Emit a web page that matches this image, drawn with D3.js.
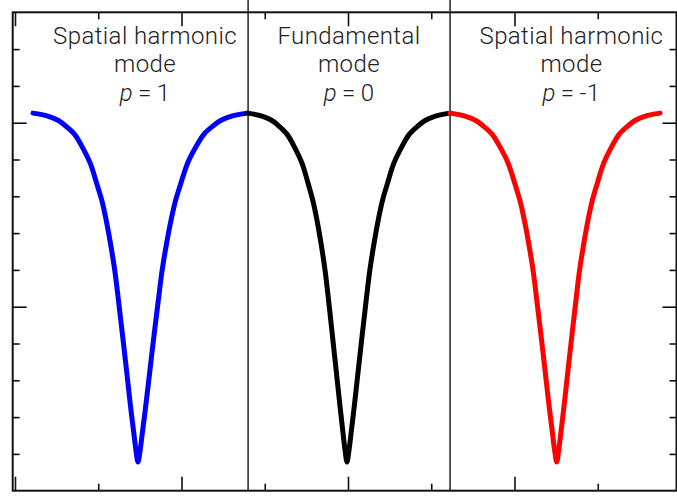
<!DOCTYPE html>
<html>
<head>
<meta charset="utf-8">
<script src="https://cdn.jsdelivr.net/npm/d3@7/dist/d3.min.js"></script>
<style>
  html, body { margin: 0; padding: 0; background: #fff; }
  svg { display: block; }
</style>
</head>
<body>
<svg id="chart" width="677" height="496"></svg>
<script>
// Dispersion dips of the three modes (x: wavenumber, y: normalized response)
const blueX = [-1.8919, -1.8030, -1.7393, -1.7009, -1.6432, -1.5922, -1.5483, -1.5099, -1.4775, -1.4523,
               -1.4270, -1.4012, -1.3760, -1.3502, -1.3249, -1.3063, -1.2865, -1.2739, -1.2613,
               -1.2482, -1.2351, -1.2148, -1.1951, -1.1690, -1.1421, -1.1159, -1.0891, -1.0629, -1.0367,
               -1.0033, -0.9634, -0.9175, -0.8646, -0.8050, -0.7651, -0.6989, -0.6030];
const blackX = [-0.6006, -0.5165, -0.4565, -0.4204, -0.3664, -0.3183, -0.2763, -0.2402, -0.2102, -0.1862,
                -0.1622, -0.1381, -0.1141, -0.0901, -0.0661, -0.0480, -0.0300, -0.0180, -0.0060,
                0.0064, 0.0187, 0.0379, 0.0565, 0.0812, 0.1066, 0.1314, 0.1567, 0.1814, 0.2062,
                0.2377, 0.2755, 0.3188, 0.3689, 0.4252, 0.4629, 0.5254, 0.6126];
const redX = [0.6126, 0.7029, 0.7677, 0.8068, 0.8651, 0.9170, 0.9619, 1.0010, 1.0336, 1.0593,
              1.0849, 1.1112, 1.1368, 1.1631, 1.1887, 1.2079, 1.2278, 1.2407, 1.2535,
              1.2659, 1.2783, 1.2975, 1.3161, 1.3410, 1.3664, 1.3912, 1.4166, 1.4414, 1.4662,
              1.4979, 1.5357, 1.5792, 1.6294, 1.6859, 1.7237, 1.7864, 1.8739];
const blueY = [1.026, 1.018, 1.006, 0.993, 0.969, 0.931, 0.890, 0.836, 0.787, 0.735,
               0.673, 0.600, 0.507, 0.407, 0.306, 0.230, 0.157, 0.111, 0.078,
               0.111, 0.157, 0.230, 0.306, 0.407, 0.507, 0.600, 0.673, 0.735, 0.787,
               0.836, 0.890, 0.931, 0.969, 0.993, 1.006, 1.018, 1.026];
const blackY = [1.026, 1.018, 1.006, 0.993, 0.969, 0.931, 0.890, 0.836, 0.787, 0.735,
                0.673, 0.600, 0.507, 0.407, 0.306, 0.230, 0.157, 0.111, 0.078,
                0.111, 0.157, 0.230, 0.306, 0.407, 0.507, 0.600, 0.673, 0.735, 0.787,
                0.836, 0.890, 0.931, 0.969, 0.993, 1.006, 1.018, 1.026];
const redY = [1.026, 1.018, 1.006, 0.993, 0.969, 0.931, 0.890, 0.836, 0.787, 0.735,
              0.673, 0.600, 0.507, 0.407, 0.306, 0.230, 0.157, 0.111, 0.078,
              0.111, 0.157, 0.230, 0.306, 0.407, 0.507, 0.600, 0.673, 0.735, 0.787,
              0.836, 0.890, 0.931, 0.969, 0.993, 1.006, 1.018, 1.026];

const seriesColors = ["#0000ff", "#000000", "#ff0000"];

// Region boundaries between the modes
const dividers = [-0.6, 0.613];

// Mode captions
const captionTitle = ["Spatial harmonic", "Fundamental", "Spatial harmonic"];
const captionSub = ["mode", "mode", "mode"];
const captionOrder = ["1", "0", "-1"];
const captionX = [-1.219, 0.006, 1.342];

// Tick values
const xMajor = [-2, -1, 0, 1];
const xMinor = [-1.5, -0.5, 0.5, 1.5];
const yMajor = [0.5, 1.0];
const yMinor = [0.1, 0.2, 0.3, 0.4, 0.6, 0.7, 0.8, 0.9, 1.1, 1.2];

const svg = d3.select("#chart");
const plotLeft = 12.7, plotRight = 676.5, plotTop = 12.3, plotBottom = 490.7;

const x = d3.scaleLinear().domain([-2.0138, 1.973]).range([plotLeft, plotRight]);
const y = d3.scaleLinear().domain([0, 1.3]).range([plotBottom, plotTop]);

// Axes with inward ticks on all four sides
function drawAxis(axisFn, scale, values, size, transform) {
  const g = svg.append("g")
    .attr("transform", transform)
    .call(axisFn(scale).tickValues(values).tickSizeInner(-size).tickSizeOuter(0).tickFormat(""));
  g.select(".domain").remove();
  g.selectAll(".tick line").attr("stroke", "#111").attr("stroke-width", 1.6);
}
drawAxis(d3.axisBottom, x, xMajor, 14, `translate(0,${plotBottom})`);
drawAxis(d3.axisBottom, x, xMinor, 7, `translate(0,${plotBottom})`);
drawAxis(d3.axisTop, x, xMajor, 14, `translate(0,${plotTop})`);
drawAxis(d3.axisTop, x, xMinor, 7, `translate(0,${plotTop})`);
drawAxis(d3.axisLeft, y, yMajor, 14, `translate(${plotLeft},0)`);
drawAxis(d3.axisLeft, y, yMinor, 7, `translate(${plotLeft},0)`);
drawAxis(d3.axisRight, y, yMajor, 14, `translate(${plotRight},0)`);
drawAxis(d3.axisRight, y, yMinor, 7, `translate(${plotRight},0)`);

// Frame
svg.append("rect")
  .attr("x", plotLeft).attr("y", plotTop)
  .attr("width", plotRight - plotLeft).attr("height", plotBottom - plotTop)
  .attr("fill", "none").attr("stroke", "#111").attr("stroke-width", 2);

// Divider lines, running past the top of the frame
svg.selectAll("line.divider")
  .data(dividers)
  .join("line")
  .attr("class", "divider")
  .attr("x1", d => x(d)).attr("x2", d => x(d))
  .attr("y1", 0).attr("y2", plotBottom)
  .attr("stroke", "#222").attr("stroke-width", 1.5);

// Curves
const line = d3.line()
  .x(d => x(d[0]))
  .y(d => y(d[1]))
  .curve(d3.curveCatmullRom.alpha(0.5));

const series = [
  d3.zip(blueX, blueY),
  d3.zip(blackX, blackY),
  d3.zip(redX, redY)
];

svg.selectAll("path.mode")
  .data(series)
  .join("path")
  .attr("class", "mode")
  .attr("d", line)
  .attr("fill", "none")
  .attr("stroke", (d, i) => seriesColors[i])
  .attr("stroke-width", 5)
  .attr("stroke-linecap", "round")
  .attr("stroke-linejoin", "round");

// Captions
const fontFamily = "Roboto, 'Noto Sans', sans-serif";
const baselines = [43.5, 72, 100.5];
captionX.forEach((cxVal, i) => {
  const cx = x(cxVal);
  const base = (sel, yy) => sel
    .attr("x", cx).attr("y", yy)
    .attr("text-anchor", "middle")
    .attr("font-family", fontFamily)
    .attr("font-weight", 300)
    .attr("font-size", 24)
    .attr("letter-spacing", 0.4)
    .attr("fill", "#222");
  base(svg.append("text"), baselines[0]).text(captionTitle[i]);
  base(svg.append("text"), baselines[1]).text(captionSub[i]);
  const t = base(svg.append("text"), baselines[2]);
  t.append("tspan").attr("font-style", "italic").text("p");
  t.append("tspan").attr("dx", 5).text("=");
  t.append("tspan").attr("dx", 5).text(captionOrder[i]);
});
</script>
</body>
</html>
